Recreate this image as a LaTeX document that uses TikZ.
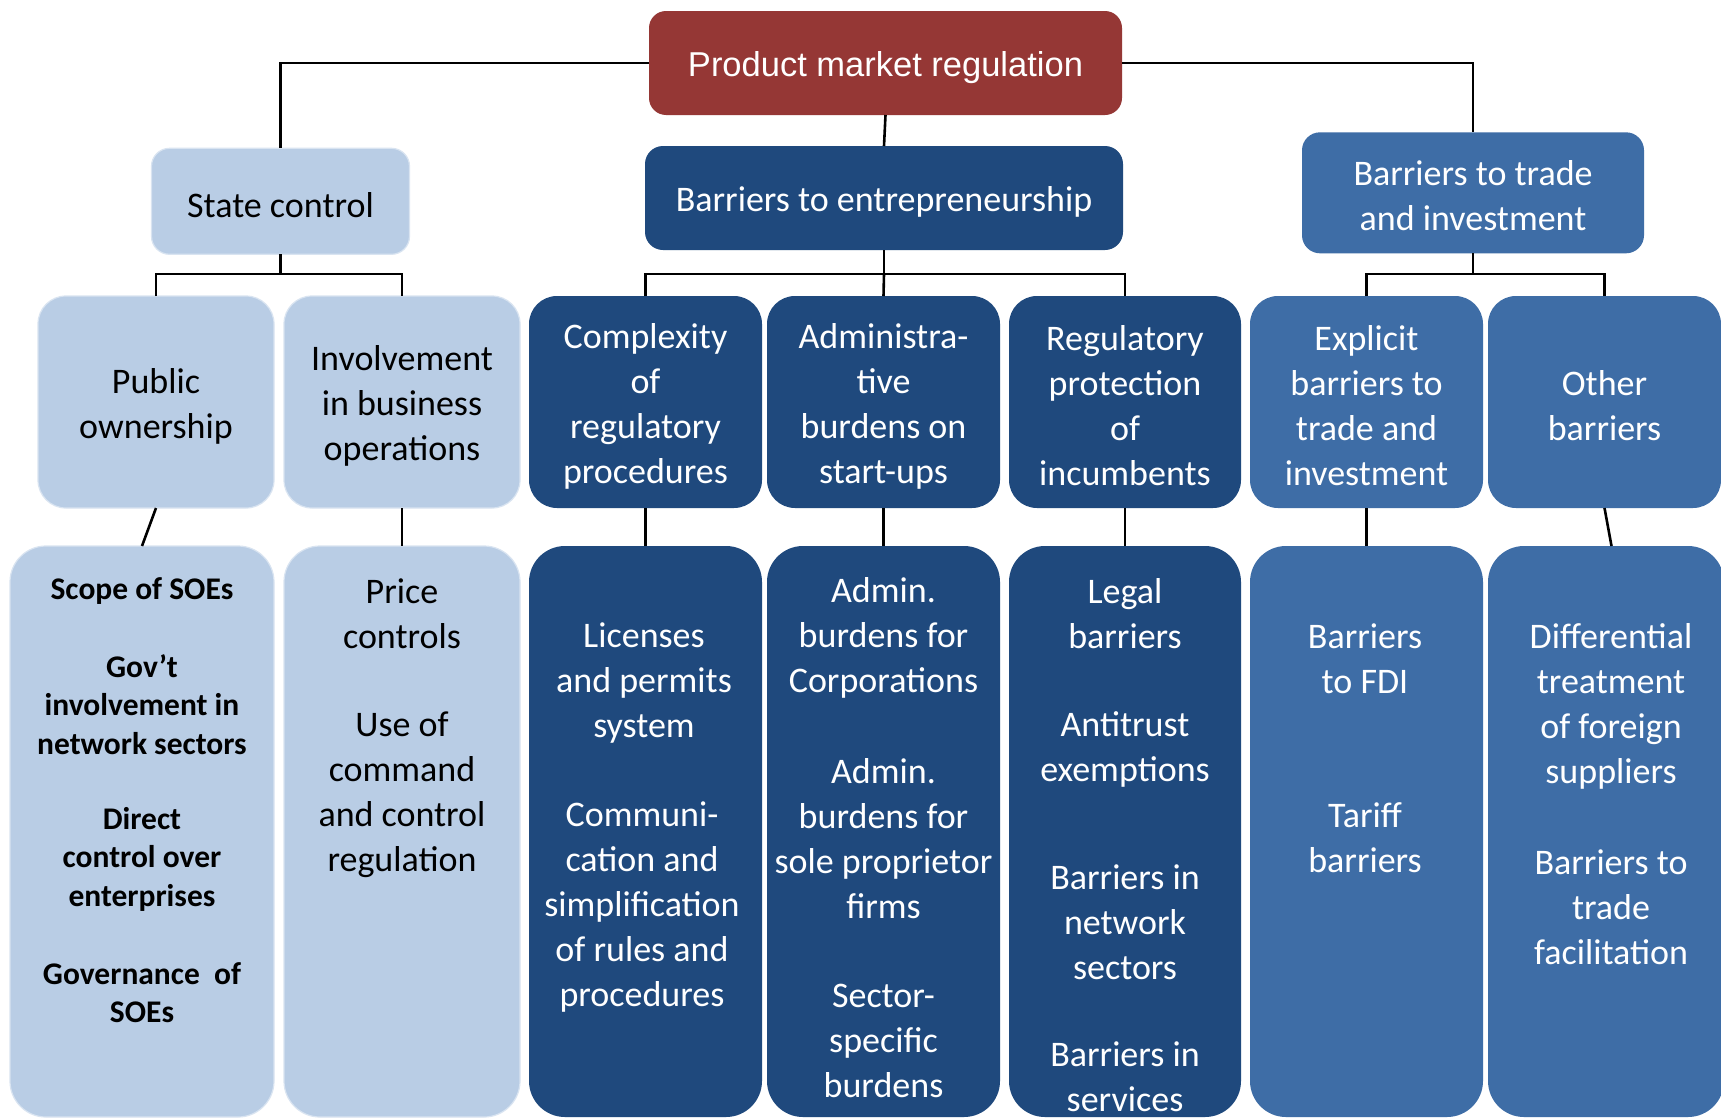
\documentclass[tikz,border=0pt]{standalone}
\usepackage{fontspec}
\newfontfamily\calib{Carlito}
\newfontfamily\arialf{Liberation Sans}
\definecolor{pmred}{HTML}{953735}
\definecolor{lblue}{HTML}{B9CDE5}
\definecolor{dblue}{HTML}{1F497D}
\definecolor{mblue}{HTML}{3E6DA6}
\tikzset{
  boxbase/.style={rectangle, inner sep=0pt, outer sep=0pt},
  toplvl/.style={boxbase, rounded corners=17pt, fill=pmred},
  lvltwo/.style={boxbase, rounded corners=18pt},
  lvlthree/.style={boxbase, rounded corners=28pt, minimum height=212pt},
  lvlfour/.style={boxbase, rounded corners=36pt, minimum height=571pt},
  lightbox/.style={fill=lblue, draw=lblue!55!white, line width=1.2pt},
  darkbox/.style={fill=dblue},
  midbox/.style={fill=mblue},
  toptxt/.style={inner sep=0pt, text=white, font=\arialf\fontsize{34.5}{40}\selectfont},
  txt/.style={inner sep=0pt, align=center, font=\calib\fontsize{36}{45}\selectfont},
  wtxt/.style={txt, text=white},
  ktxt/.style={txt, text=black},
  txtb/.style={inner sep=0pt, align=center, font=\calib\bfseries\fontsize{31.5}{38.4}\selectfont, text=black},
  conn/.style={line width=2.6pt, black},
}
\begin{document}
\begin{tikzpicture}[x=1pt, y=-1pt]
\useasboundingbox (0,0) rectangle (1721,1119);
\clip (0,0) rectangle (1721,1119);
\fill[white] (0,0) rectangle (1721,1119);

% level 1
\node[toplvl, minimum width=473pt, minimum height=104pt] (top) at (885.5,63) {};
\node[toptxt] (topT) at (885.5,67.5) {Product market regulation};

% level 2
\node[lvltwo, lightbox, minimum width=258pt, minimum height=106pt] (state) at (280.5,201.3) {};
\node[lvltwo, darkbox, minimum width=478pt, minimum height=104pt] (entre) at (884,198) {};
\node[lvltwo, midbox, minimum width=342pt, minimum height=121pt] (trade) at (1473,192.8) {};
\node[ktxt] (stateT) at (280.5,205) {State control};
\node[wtxt] (entreT) at (884,202) {Barriers to entrepreneurship};
\node[wtxt] (tradeT) at (1473,196) {Barriers to trade\\and investment};

% level 3
\node[lvlthree, lightbox, minimum width=236pt] (pub) at (156,402) {};
\node[lvlthree, lightbox, minimum width=236pt] (inv) at (402,402) {};
\node[lvlthree, darkbox, minimum width=233pt] (cpx) at (645.5,402) {};
\node[lvlthree, darkbox, minimum width=233pt] (adm) at (883.5,402) {};
\node[lvlthree, darkbox, minimum width=232pt] (reg) at (1125,402) {};
\node[lvlthree, midbox, minimum width=233pt] (expl) at (1366.5,402) {};
\node[lvlthree, midbox, minimum width=233pt] (oth) at (1604.5,402) {};
\node[ktxt] (pubT) at (156,406) {Public\\ownership};
\node[ktxt] (invT) at (402,406) {Involvement\\in business\\operations};
\node[wtxt] (cpxT) at (645.5,406) {Complexity\\of\\regulatory\\procedures};
\node[wtxt] (admT) at (883.5,406) {Administra-\\tive\\burdens on\\start-ups};
\node[wtxt] (regT) at (1125,406) {Regulatory\\protection\\of\\incumbents};
\node[wtxt] (explT) at (1366.5,406) {Explicit\\barriers to\\trade and\\investment};
\node[wtxt] (othT) at (1604.5,406) {Other\\barriers};

% level 4 boxes
\node[lvlfour, lightbox, minimum width=264pt] (scope) at (142,831.5) {};
\node[lvlfour, lightbox, minimum width=236pt] (price) at (402,831.5) {};
\node[lvlfour, darkbox, minimum width=233pt] (lic) at (645.5,831.5) {};
\node[lvlfour, darkbox, minimum width=233pt] (admb) at (883.5,831.5) {};
\node[lvlfour, darkbox, minimum width=232pt] (legal) at (1125,831.5) {};
\node[lvlfour, midbox, minimum width=233pt] (fdi) at (1366.5,831.5) {};
\node[lvlfour, midbox, minimum width=236pt] (diff) at (1606,831.5) {};

% level 4 texts
\node[txtb] (s1) at (142,591.3) {Scope of SOEs};
\node[txtb] (s2) at (142,704.6) {Gov’t\\involvement in\\network sectors};
\node[txtb] (s3) at (142,859.2) {Direct\\control over\\enterprises};
\node[txtb] (s4) at (142,992.7) {Governance~ of\\SOEs};

\node[ktxt] (p1) at (402,614) {Price\\controls};
\node[ktxt] (p2) at (402,795) {Use of\\command\\and control\\regulation};

\node[wtxt] (l1) at (644,683.5) {Licenses\\and permits\\system};
\node[wtxt] (l2) at (642,907.4) {Communi-\\cation and\\simplification\\of rules and\\procedures};

\node[wtxt] (a1) at (883.5,637.5) {Admin.\\burdens for\\Corporations};
\node[wtxt] (a2) at (883.5,838.5) {Admin.\\burdens for\\sole proprietor\\firms};
\node[wtxt] (a3) at (883.5,1041) {Sector-\\specific\\burdens};

\node[wtxt] (g1) at (1125,614) {Legal\\barriers};
\node[wtxt] (g2) at (1125,749) {Antitrust\\exemptions};
\node[wtxt] (g3) at (1125,922) {Barriers in\\network\\sectors};
\node[wtxt] (g4) at (1125,1076.5) {Barriers in\\services};

\node[wtxt] (f1) at (1365,659) {Barriers\\to FDI};
\node[wtxt] (f2) at (1365,838) {Tariff\\barriers};

\node[wtxt] (d1) at (1611,706.5) {Differential\\treatment\\of foreign\\suppliers};
\node[wtxt] (d2) at (1611,907) {Barriers to\\trade\\facilitation};

% junction coordinates
\coordinate (jstate) at (280.5,274);
\coordinate (jentre) at (884,274);
\coordinate (jtrade) at (1473,274);
\coordinate (dtop) at (1611.5,546);

% connectors
\draw[conn] (top.west) -| (state.north);
\draw[conn] (top.east) -| (trade.north);
\draw[conn] (top.south) -- (entre.north);

\draw[conn] (state.south) -- (jstate);
\draw[conn] (pub.north) -- (pub.north |- jstate) -- (inv.north |- jstate) -- (inv.north);

\draw[conn] (entre.south) -- (jentre);
\draw[conn] (cpx.north) -- (cpx.north |- jentre) -- (reg.north |- jentre) -- (reg.north);
\draw[conn] (jentre) -- (adm.north);

\draw[conn] (trade.south) -- (jtrade);
\draw[conn] (expl.north) -- (expl.north |- jtrade) -- (oth.north |- jtrade) -- (oth.north);

\draw[conn] (pub.south) -- (scope.north);
\draw[conn] (inv.south) -- (price.north);
\draw[conn] (cpx.south) -- (lic.north);
\draw[conn] (adm.south) -- (admb.north);
\draw[conn] (reg.south) -- (legal.north);
\draw[conn] (expl.south) -- (fdi.north);
\draw[conn] (oth.south) -- (dtop);
\end{tikzpicture}
\end{document}
